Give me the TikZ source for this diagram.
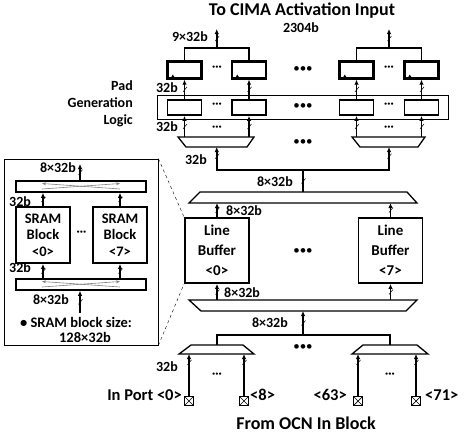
\documentclass[tikz,border=0pt]{standalone}
\usepackage{fontspec}
\setmainfont{Carlito}
\usetikzlibrary{arrows.meta,positioning}

\begin{document}
\begin{tikzpicture}[x=1pt,y=-1pt]

    \tikzset{
      lbl/.style={font=\bfseries\fontsize{14}{15}\selectfont,inner sep=0pt},
      bigtxt/.style={font=\bfseries\fontsize{18}{19}\selectfont,inner sep=0pt},
      portlbl/.style={font=\bfseries\fontsize{16.5}{17}\selectfont,inner sep=0pt},
      bus/.style={line width=1.6pt,-{Latex[length=5pt,width=4.5pt]}},
      wire/.style={line width=1.6pt},
      muxline/.style={line width=1.3pt,line join=miter},
      ffbox/.style={draw,line width=2.4pt,minimum width=34pt,minimum height=17pt,inner sep=0pt},
      padbox/.style={draw,line width=1.8pt,minimum width=34pt,minimum height=15pt,inner sep=0pt},
      lbbox/.style={draw,line width=1.9pt,minimum width=64pt,minimum height=65pt,align=center,
        font=\bfseries\fontsize{15}{20}\selectfont,inner sep=0pt},
      srambox/.style={draw,line width=1.9pt,minimum width=54pt,minimum height=56pt,align=center,
        font=\bfseries\fontsize{14.5}{16.5}\selectfont,inner sep=0pt},
      barbox/.style={draw,line width=1.5pt,minimum width=130pt,minimum height=11pt,inner sep=0pt},
      port/.style={draw,line width=1.3pt,minimum size=9pt,inner sep=0pt,
        path picture={\draw[line width=.7pt]
          (path picture bounding box.south west) -- (path picture bounding box.north east)
          (path picture bounding box.north west) -- (path picture bounding box.south east);}},
      sdots/.style={font=\bfseries\fontsize{12}{12}\selectfont,inner sep=0pt},
      bdots/.style={font=\fontsize{13}{13}\selectfont,inner sep=0pt},
      tick/.pic={\draw[line width=.5pt,arrows=-] (-1.5,2.5) -- (2.5,-2.5);},
    }
    \useasboundingbox (0,0) rectangle (467,437);

    % output side
    \node[bigtxt] (ttl) at (302,11) {To CIMA Activation Input};
    \node[lbl] (wd) at (301,28) {2304b};
    \coordinate (jA) at (216.75,48);
    \coordinate (jB) at (389,48);
    \coordinate (oA) at (216.75,29);
    \coordinate (oB) at (389,29);

    \foreach \n/\x in {1/184.5,2/249,3/356.5,4/421.5}{
      \node[ffbox] (ff\n) at (\x,70) {};
      \draw[line width=1.2pt] ([xshift=4pt]ff\n.south west) -- ++(2.5,-4) -- ++(2.5,4);
      \node[padbox] (pd\n) at (\x,107.5) {};
      \draw[bus] (pd\n.north) -- (ff\n.south) pic[pos=.5]{tick};
    }
    \draw[wire] (ff1.north) |- (jA) -| (ff2.north);
    \draw[wire] (ff3.north) |- (jB) -| (ff4.north);
    \draw[bus] (jA) -- (oA) pic[pos=.5]{tick};
    \draw[bus] (jB) -- (oB) pic[pos=.5]{tick};
    \node[lbl,anchor=east] (w9) at (208,37) {9×32b};
    \node[lbl,anchor=east] (w32a) at (178,88) {32b};

    % pad generation logic
    \node[draw,line width=.8pt,minimum width=291pt,minimum height=24pt,inner sep=0pt] (pgl) at (302.5,107) {};
    \node[lbl,anchor=east,align=right,font=\bfseries\fontsize{14}{17}\selectfont] (pgltxt) at (133,104) {Pad\\Generation\\Logic};

    \node[sdots] at (217,68) {···};
    \node[sdots] at (389,68) {···};
    \node[sdots] at (217,105) {···};
    \node[sdots] at (389,105) {···};
    \node[bdots] at (303,70) {•••};
    \node[bdots] at (303,107) {•••};

    % demux to pad logic
    \draw[muxline] (178,137) -- (254,137) -- (247,147) -- (186,147) -- cycle;
    \draw[muxline] (352,137) -- (425,137) -- (418,147) -- (360,147) -- cycle;
    \coordinate (dAt) at (216,137);
    \coordinate (dBt) at (388.5,137);
    \coordinate (dAb) at (216.75,147);
    \coordinate (dBb) at (389,147);
    \foreach \n/\m in {1/dAt,2/dAt,3/dBt,4/dBt}
      \draw[bus] (pd\n.south |- \m) -- (pd\n.south) pic[pos=.5]{tick};
    \node[lbl,anchor=east] (w32b) at (178,127) {32b};
    \node[sdots] at (217,128) {···};
    \node[sdots] at (389,128) {···};
    \node[bdots] at (303,143) {•••};

    \coordinate (tr1) at (303,170);
    \coordinate (wAt) at (303,192);
    \draw[bus] (tr1) -| (dAb) pic[pos=.8]{tick};
    \draw[bus] (tr1) -| (dBb) pic[pos=.8]{tick};
    \draw[wire] (tr1) -- (wAt) pic[pos=.5]{tick};
    \node[lbl,anchor=east] (w32c) at (207,160) {32b};
    \node[lbl,anchor=east] (w8a) at (293,182) {8×32b};

    % line buffers
    \draw[muxline] (200,192) -- (407,192) -- (417,203) -- (189,203) -- cycle;
    \coordinate (wAb) at (303,203);
    \node[lbbox] (lb0) at (217,250.5) {Line\\Buffer\\<0>};
    \node[lbbox] (lb7) at (390.5,250.5) {Line\\Buffer\\<7>};
    \node[bdots] at (303,252) {•••};
    \draw[bus] (lb0.north) -- (lb0.north |- wAb) pic[pos=.5]{tick};
    \draw[bus] (lb7.north) -- (lb7.north |- wAb) pic[pos=.5]{tick};
    \node[lbl,anchor=west] (w8b) at (226,211) {8×32b};

    \draw[muxline] (189,300) -- (417,300) -- (406,311) -- (201,311) -- cycle;
    \coordinate (wBt) at (303,300);
    \coordinate (wBb) at (303,311);
    \draw[bus] (lb0.south |- wBt) -- (lb0.south) pic[pos=.5]{tick};
    \draw[bus] (lb7.south |- wBt) -- (lb7.south) pic[pos=.5]{tick};
    \node[lbl,anchor=west] (w8c) at (224,293) {8×32b};

    % input side
    \coordinate (tr2) at (303,335);
    \draw[bus] (tr2) -- (wBb) pic[pos=.5]{tick};
    \node[lbl,anchor=east] (w8d) at (288,323) {8×32b};
    \draw[muxline] (191,345) -- (243,345) -- (254,354) -- (179,354) -- cycle;
    \draw[muxline] (363,345) -- (417,345) -- (428,354) -- (352,354) -- cycle;
    \coordinate (mAt) at (217,345);
    \coordinate (mBt) at (390,345);
    \coordinate (mAb) at (216.5,354);
    \coordinate (mBb) at (390,354);
    \draw[wire] (mAt) |- (tr2) -| (mBt);
    \node[bdots] at (303,348) {•••};

    \foreach \p/\x/\m in {0/189/mAb,8/244/mAb,63/358/mBb,71/416/mBb}{
      \node[port] (p\p) at (\x,401) {};
      \draw[bus] (p\p.north) -- (p\p.north |- \m) pic[pos=.8]{tick};
    }
    \node[lbl,anchor=east] (w32d) at (178,367) {32b};
    \node[sdots] at (217,375) {···};
    \node[sdots] at (390,375) {···};
    \node[portlbl,anchor=east] (l0) at (182,395) {In Port <0>};
    \node[portlbl,anchor=west] (l8) at (250,395) {<8>};
    \node[portlbl,anchor=east] (l63) at (347,395) {<63>};
    \node[portlbl,anchor=west] (l71) at (425,395) {<71>};
    \node[bigtxt] (src) at (306,423) {From OCN In Block};

    % SRAM inset
    \node[draw,line width=.8pt,minimum width=154pt,minimum height=186pt,inner sep=0pt] (inset) at (81,252) {};
    \draw[dashed] (inset.north east) -- (lb0.north west);
    \draw[dashed] (inset.south east) -- (lb0.south west);
    \node[barbox] (bar1) at (81,186.5) {};
    \node[barbox] (bar2) at (81,284.5) {};
    \draw[gray,line width=.6pt,-{Stealth[length=4pt,width=3pt]}] (120,189) -- (42,183.5);
    \draw[gray,line width=.6pt,-{Stealth[length=4pt,width=3pt]}] (42,189) -- (120,183.5);
    \draw[gray,line width=.6pt,-{Stealth[length=4pt,width=3pt]}] (120,287) -- (42,281.5);
    \draw[gray,line width=.6pt,-{Stealth[length=4pt,width=3pt]}] (42,287) -- (120,281.5);
    \node[srambox] (sb0) at (43,235) {SRAM\\Block\\<0>};
    \node[srambox] (sb7) at (120,235) {SRAM\\Block\\<7>};
    \node[sdots] at (81.5,233) {···};
    \draw[bus] (sb0.north) -- (sb0.north |- bar1.south) pic[pos=.5]{tick};
    \draw[bus] (sb7.north) -- (sb7.north |- bar1.south) pic[pos=.5]{tick};
    \draw[bus] (sb0.south |- bar2.north) -- (sb0.south) pic[pos=.5]{tick};
    \draw[bus] (sb7.south |- bar2.north) -- (sb7.south) pic[pos=.5]{tick};
    \coordinate (sOut) at (80,164);
    \coordinate (sIn) at (80,313);
    \draw[bus] (sOut |- bar1.north) -- (sOut) pic[pos=.5]{tick};
    \draw[bus] (sIn) -- (sIn |- bar2.south) pic[pos=.5]{tick};
    \node[lbl,anchor=east] (s8a) at (76,168) {8×32b};
    \node[lbl,anchor=west] (s32a) at (9,202) {32b};
    \node[lbl,anchor=west] (s32b) at (9,268) {32b};
    \node[lbl,anchor=east] (s8b) at (69,300) {8×32b};
    \node[lbl,font=\bfseries\fontsize{14.5}{16}\selectfont] (ssz) at (76,322) {• SRAM block size:};
    \node[lbl,font=\bfseries\fontsize{14.5}{16}\selectfont] (ssz2) at (85,337) {128×32b};

\end{tikzpicture}
\end{document}
